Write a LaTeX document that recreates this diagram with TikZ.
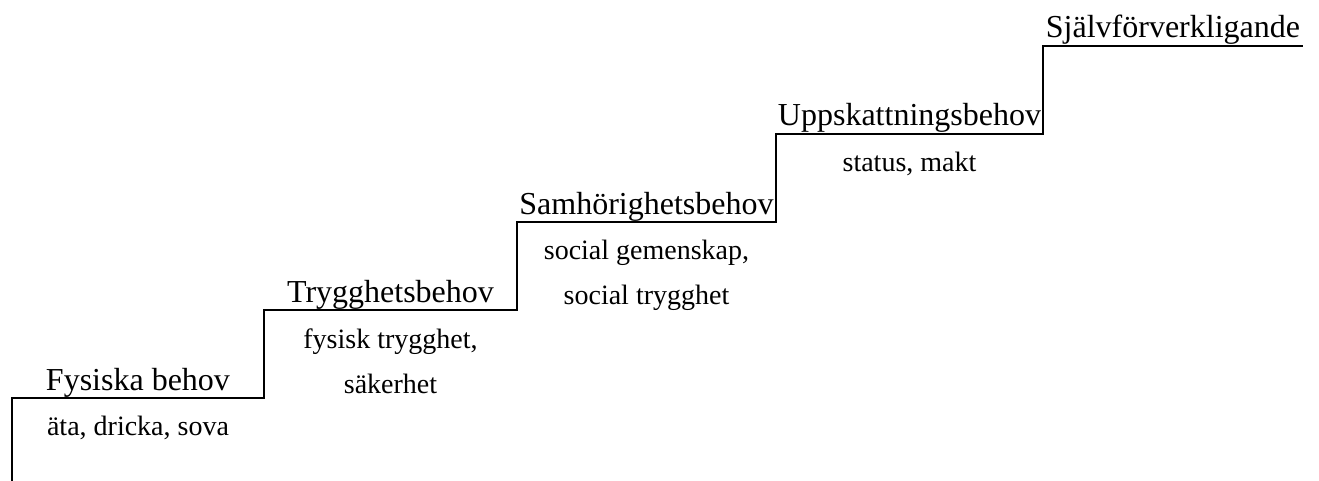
\documentclass[tikz,border=0pt]{standalone}
\usepackage{fontspec}
\setmainfont{Liberation Serif}
\usetikzlibrary{positioning}

\tikzset{
    need/.style={font=\fontsize{16}{19}\selectfont, inner sep=0pt, anchor=base},
    desc/.style={font=\fontsize{14}{22.5}\selectfont, inner sep=0pt, anchor=north, align=center},
    stair/.style={line width=1.2pt, line join=miter}
}

\begin{document}
\begin{tikzpicture}[x=0.5pt,y=-0.5pt]
    \useasboundingbox (0,0) rectangle (1319,481);

    % Staircase corners
    \coordinate (c0) at (12,481);
    \foreach \i/\xa/\xb/\yy in {1/12/264/398, 2/264/517/310, 3/517/776/222, 4/776/1043/134, 5/1043/1303/46} {
        \coordinate (a\i) at (\xa,\yy);
        \coordinate (b\i) at (\xb,\yy);
    }
    \draw[stair] (c0) -- (a1) -- (b1) -- (a2) -- (b2) -- (a3) -- (b3) -- (a4) -- (b4) -- (a5) -- (b5);

    % Needs
    \foreach \i/\xa/\xb/\yy/\name in {1/12/264/398/Fysiska behov, 2/264/517/310/Trygghetsbehov, 3/517/776/222/Samhörighetsbehov, 4/776/1043/134/Uppskattningsbehov, 5/1043/1303/46/Självförverkligande} {
        \node[need] (need\i) at ({(\xa+\xb)/2}, \yy-8) {\name};
    }

    % Examples
    \node[desc] (ex1) at (138,416) {äta, dricka, sova};
    \node[desc] (ex2) at (390.5,328) {fysisk trygghet,\\säkerhet};
    \node[desc] (ex3) at (646.5,240) {social gemenskap,\\social trygghet};
    \node[desc] (ex4) at (909.5,152) {status, makt};
\end{tikzpicture}
\end{document}
